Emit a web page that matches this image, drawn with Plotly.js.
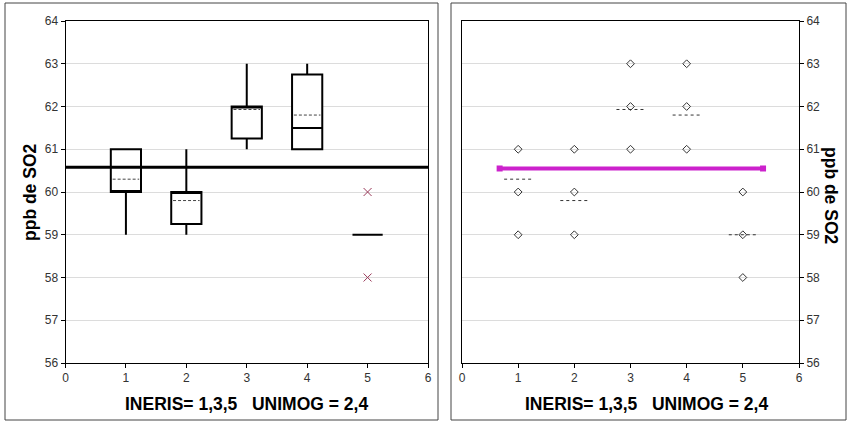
<!DOCTYPE html>
<html>
<head>
<meta charset="utf-8">
<script src="https://cdn.plot.ly/plotly-3.0.1.min.js"></script>
<style>html,body{margin:0;padding:0;background:#fff;}#chart{width:848px;height:425px;}</style>
</head>
<body>
<div id="chart"></div>
<script>
// ---- data ----
const cats = [1, 2, 3, 4, 5];
const q1 = [60, 59.25, 61.25, 61, 59];
const medians = [60, 60, 62, 61.5, 59];
const q3 = [61, 60, 62, 62.75, 59];
const lowerFence = [59, 59, 61, 61, 59];
const upperFence = [61, 61, 63, 63, 59];
const means = [60.3, 59.8, 61.93, 61.8, 59];
const outlierX = [5, 5];
const outlierY = [60, 58];
const refLeftX = [0, 6];
const refLeftY = [60.58, 60.58];
const refRightX = [0.67, 5.36];
const refRightY = [60.55, 60.55];
const pointX = [1, 1, 1, 2, 2, 2, 3, 3, 3, 4, 4, 4, 5, 5, 5];
const pointY = [59, 60, 61, 59, 60, 61, 61, 62, 63, 61, 62, 63, 58, 59, 60];
const xTicks = [0, 1, 2, 3, 4, 5, 6];
const yTicks = [56, 57, 58, 59, 60, 61, 62, 63, 64];
const yTitle = 'ppb de SO2';
const xTitle = 'INERIS= 1,3,5\u00a0\u00a0\u00a0UNIMOG = 2,4';

// mean dash segments built from the data
function segs(centers, vals, half, skip) {
  const xs = [], ys = [];
  centers.forEach((c, i) => {
    if (skip && skip(i)) return;
    xs.push(c - half, c + half, null);
    ys.push(vals[i], vals[i], null);
  });
  return {xs, ys};
}
const leftMean = segs(cats, means, 0.22, i => means[i] === medians[i] && q1[i] === q3[i]);
const rightMean = segs(cats, means, 0.25);

const W = 848, H = 425;
const px = v => v / W, py = v => 1 - v / H;

const tickFont = {family: 'Arial, Liberation Sans, sans-serif', size: 12, color: '#333'};
const titleFont = {family: 'Arial, Liberation Sans, sans-serif', size: 17.5, color: '#000', weight: 'bold'};

const traces = [
  {type: 'box', x: cats, q1: q1, median: medians, q3: q3, lowerfence: lowerFence, upperfence: upperFence,
   boxpoints: false, width: 0.5, whiskerwidth: 0, fillcolor: '#fff',
   line: {color: '#000', width: 2}, xaxis: 'x', yaxis: 'y', hoverinfo: 'skip'},
  {type: 'scatter', mode: 'lines', x: leftMean.xs, y: leftMean.ys, xaxis: 'x', yaxis: 'y',
   line: {color: '#444', width: 1, dash: '3px,2px'}, hoverinfo: 'skip'},
  {type: 'scatter', mode: 'lines', x: refLeftX, y: refLeftY, xaxis: 'x', yaxis: 'y',
   line: {color: '#000', width: 3}, hoverinfo: 'skip'},
  {type: 'scatter', mode: 'markers', x: outlierX, y: outlierY, xaxis: 'x', yaxis: 'y',
   marker: {symbol: 'x-thin', size: 8, line: {color: '#9a3a5a', width: 1}}, hoverinfo: 'skip'},

  {type: 'scatter', mode: 'lines', x: rightMean.xs, y: rightMean.ys, xaxis: 'x2', yaxis: 'y2',
   line: {color: '#333', width: 1, dash: '3px,3px'}, hoverinfo: 'skip'},
  {type: 'scatter', mode: 'lines+markers', x: refRightX, y: refRightY, xaxis: 'x2', yaxis: 'y2',
   line: {color: '#cc22cc', width: 4}, marker: {symbol: 'square', size: 6, color: '#cc22cc'}, hoverinfo: 'skip'},
  {type: 'scatter', mode: 'markers', x: pointX, y: pointY, xaxis: 'x2', yaxis: 'y2',
   marker: {symbol: 'diamond-open', size: 6, color: '#333', line: {color: '#333', width: 1}}, hoverinfo: 'skip'}
];

const xBase = {range: [0, 6], tickvals: xTicks, ticks: 'outside', ticklen: 4, tickcolor: '#000',
  showline: true, linecolor: '#000', linewidth: 1, mirror: true, showgrid: false, zeroline: false,
  tickfont: tickFont, fixedrange: true};
const yBase = {range: [56, 64], tickvals: yTicks, ticks: 'outside', ticklen: 4, tickcolor: '#000',
  showline: true, linecolor: '#000', linewidth: 1, mirror: true, showgrid: true, gridcolor: '#dcdcdc',
  gridwidth: 1, zeroline: false, tickfont: tickFont, fixedrange: true, domain: [py(363), py(21)]};

const layout = {
  width: W, height: H, margin: {l: 0, r: 0, t: 0, b: 0},
  paper_bgcolor: '#fff', plot_bgcolor: '#fff', showlegend: false,
  xaxis: Object.assign({}, xBase, {domain: [px(65.5), px(428)], anchor: 'y'}),
  yaxis: Object.assign({}, yBase, {anchor: 'x', side: 'left'}),
  xaxis2: Object.assign({}, xBase, {domain: [px(462), px(799)], anchor: 'y2'}),
  yaxis2: Object.assign({}, yBase, {anchor: 'x2', side: 'right'}),
  shapes: [
    {type: 'rect', xref: 'paper', yref: 'paper', x0: px(5), x1: px(438), y0: py(420), y1: py(3),
     line: {color: '#444', width: 1}, layer: 'below'},
    {type: 'rect', xref: 'paper', yref: 'paper', x0: px(451), x1: px(846), y0: py(420), y1: py(3),
     line: {color: '#444', width: 1}, layer: 'below'}
  ],
  annotations: [
    {xref: 'paper', yref: 'paper', x: px(30), y: py(192), text: yTitle, textangle: -90, showarrow: false,
     font: titleFont, xanchor: 'center', yanchor: 'middle'},
    {xref: 'paper', yref: 'paper', x: px(831), y: py(196), text: yTitle, textangle: 90, showarrow: false,
     font: titleFont, xanchor: 'center', yanchor: 'middle'},
    {xref: 'paper', yref: 'paper', x: px(247), y: py(404), text: xTitle, showarrow: false,
     font: titleFont, xanchor: 'center', yanchor: 'middle'},
    {xref: 'paper', yref: 'paper', x: px(646), y: py(404), text: xTitle, showarrow: false,
     font: titleFont, xanchor: 'center', yanchor: 'middle'}
  ]
};

Plotly.newPlot('chart', traces, layout, {displayModeBar: false, staticPlot: true});
</script>
</body>
</html>
